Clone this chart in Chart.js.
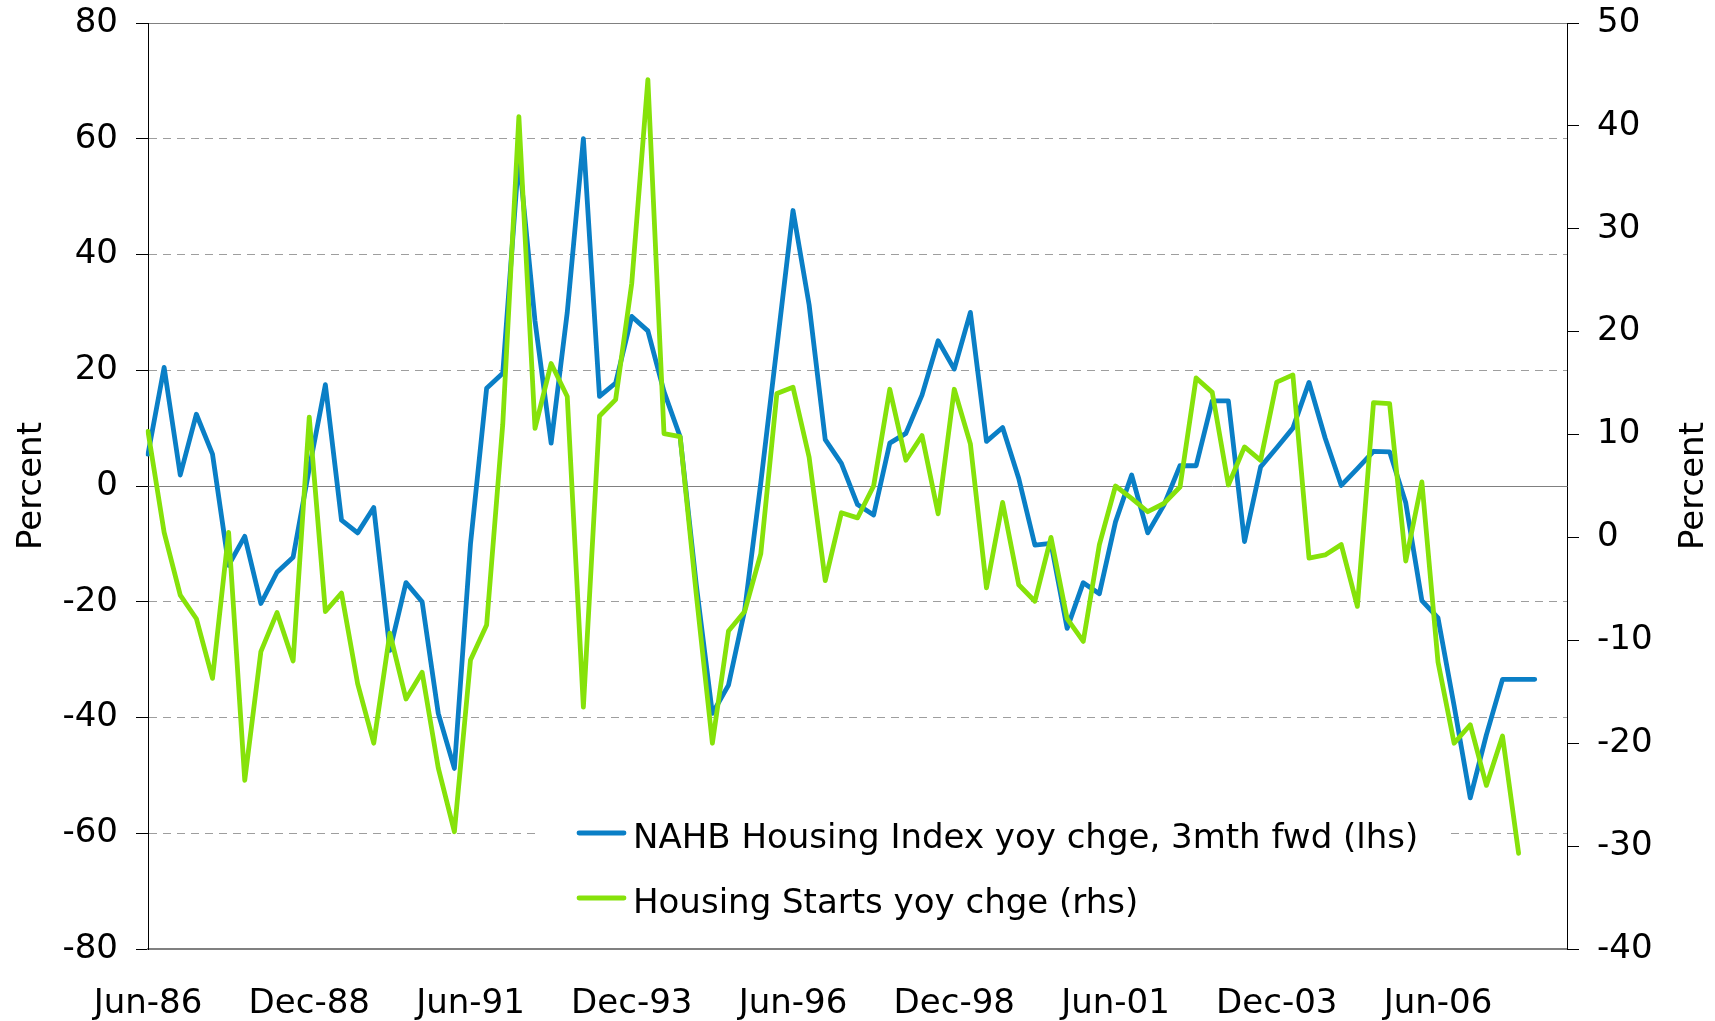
<!DOCTYPE html>
<html>
<head>
<meta charset="utf-8">
<title>NAHB Housing Index vs Housing Starts</title>
<script src="https://cdn.jsdelivr.net/npm/chart.js@4.4.1/dist/chart.umd.min.js"></script>
<style>
    html, body { margin: 0; padding: 0; background: #fff; }
    #wrap { width: 1715px; height: 1021px; }
</style>
</head>
<body>
<div id="wrap"><canvas id="housingChart" width="1715" height="1021"></canvas></div>
<script>
// quarterly categories, Jun-86 .. Jun-08
const quarters = [
    'Jun-86', 'Sep-86', 'Dec-86',
    'Mar-87', 'Jun-87', 'Sep-87', 'Dec-87',
    'Mar-88', 'Jun-88', 'Sep-88', 'Dec-88',
    'Mar-89', 'Jun-89', 'Sep-89', 'Dec-89',
    'Mar-90', 'Jun-90', 'Sep-90', 'Dec-90',
    'Mar-91', 'Jun-91', 'Sep-91', 'Dec-91',
    'Mar-92', 'Jun-92', 'Sep-92', 'Dec-92',
    'Mar-93', 'Jun-93', 'Sep-93', 'Dec-93',
    'Mar-94', 'Jun-94', 'Sep-94', 'Dec-94',
    'Mar-95', 'Jun-95', 'Sep-95', 'Dec-95',
    'Mar-96', 'Jun-96', 'Sep-96', 'Dec-96',
    'Mar-97', 'Jun-97', 'Sep-97', 'Dec-97',
    'Mar-98', 'Jun-98', 'Sep-98', 'Dec-98',
    'Mar-99', 'Jun-99', 'Sep-99', 'Dec-99',
    'Mar-00', 'Jun-00', 'Sep-00', 'Dec-00',
    'Mar-01', 'Jun-01', 'Sep-01', 'Dec-01',
    'Mar-02', 'Jun-02', 'Sep-02', 'Dec-02',
    'Mar-03', 'Jun-03', 'Sep-03', 'Dec-03',
    'Mar-04', 'Jun-04', 'Sep-04', 'Dec-04',
    'Mar-05', 'Jun-05', 'Sep-05', 'Dec-05',
    'Mar-06', 'Jun-06', 'Sep-06', 'Dec-06',
    'Mar-07', 'Jun-07', 'Sep-07', 'Dec-07',
    'Mar-08', 'Jun-08'
];
const labelStep = 10; // one label every 10 quarters

// NAHB Housing Index yoy chge, 3mth fwd (lhs, %)
const nahbYoy = [
    5.5, 20.5, 1.9, 12.4, 5.5, -13.7, -8.7, -20.3, -14.9, -12.3,
    3, 17.5, -5.9, -8.1, -3.7, -28.4, -16.7, -20, -39.3, -48.8,
    -10, 16.9, 19.5, 57, 28.5, 7.4, 30, 60, 15.5, 17.8,
    29.3, 26.8, 16.3, 8.5, -17, -39.3, -34.4, -21.5, 0.5, 24,
    47.6, 31.3, 8, 3.9, -3.2, -5, 7.4, 9.1, 15.7, 25.1,
    20.2, 30, 7.7, 10.1, 1.3, -10.2, -9.9, -24.6, -16.7, -18.6,
    -6.2, 1.9, -8.1, -3.3, 3.5, 3.5, 14.7, 14.7, -9.6, 3.3,
    6.6, 10, 17.9, 8.3, 0.1, 3, 6, 5.9, -2.9, -19.8,
    -22.8, -38, -53.9, -43, -33.4, -33.4, -33.4, null, null
];

// Housing Starts yoy chge (rhs, %)
const startsYoy = [
    10.3, 0.5, -5.6, -7.9, -13.7, 0.5, -23.6, -11.1, -7.3, -12,
    11.7, -7.2, -5.4, -14.2, -20, -9.3, -15.7, -13.1, -22.4, -28.6,
    -11.9, -8.5, 11, 40.9, 10.6, 16.9, 13.7, -16.5, 11.8, 13.4,
    24.7, 44.5, 10.1, 9.8, -5.5, -20, -9.1, -7.2, -1.6, 14,
    14.6, 7.8, -4.2, 2.4, 1.9, 5, 14.4, 7.5, 9.9, 2.3,
    14.4, 9.1, -4.9, 3.4, -4.6, -6.2, 0, -7.9, -10.1, -0.7,
    5, 3.8, 2.5, 3.3, 4.9, 15.5, 14.1, 5.1, 8.8, 7.5,
    15.1, 15.8, -2, -1.7, -0.7, -6.7, 13.1, 13, -2.3, 5.4,
    -12.1, -20, -18.2, -24.1, -19.3, -30.7, null, null, null
];

const seriesNames = ['NAHB Housing Index yoy chge, 3mth fwd (lhs)', 'Housing Starts yoy chge (rhs)'];
const axisTitle = 'Percent';

document.addEventListener('DOMContentLoaded', () => {
    const FONT = 'Verdana, "DejaVu Sans", sans-serif';
    const SIZE = 34;
    const LINE_W = 4.8;
    Chart.defaults.font.family = FONT;
    Chart.defaults.font.size = SIZE;
    Chart.defaults.color = '#000';

    const BLUE = '#0A7FC6';
    const GREEN = '#86E20A';
    const solidAt = v => v === 0 || Math.abs(v) === 80;

    // y axes: fixed width, no extra label padding above/below the plot
    const fixY = s => {
        s.width = 148;
        s.paddingTop = 0;
        s.paddingBottom = 0;
    };

    // legend inside the plot (excel style) and the two rotated axis titles
    const extras = {
        id: 'extras',
        beforeDatasetsDraw(chart) {
            const { ctx, chartArea: a } = chart;
            ctx.save();
            ctx.fillStyle = '#fff';
            ctx.fillRect(a.left + 390, a.top + 765, 912, a.bottom - a.top - 767);
            ctx.restore();
        },
        afterDraw(chart) {
            const { ctx, chartArea: a } = chart;
            ctx.save();
            ctx.font = `${SIZE}px ${FONT}`;
            ctx.fillStyle = '#000';
            ctx.textBaseline = 'alphabetic';
            ctx.textAlign = 'left';
            [BLUE, GREEN].forEach((col, i) => {
                const y = a.top + 810 + i * 65;
                ctx.strokeStyle = col;
                ctx.lineWidth = LINE_W;
                ctx.lineCap = 'round';
                ctx.beginPath();
                ctx.moveTo(a.left + 431, y);
                ctx.lineTo(a.left + 476, y);
                ctx.stroke();
                ctx.fillText(seriesNames[i], a.left + 485, y + 15);
            });
            const midY = (a.top + a.bottom) / 2;
            ctx.textAlign = 'center';
            [41, 1703].forEach(x => {
                ctx.save();
                ctx.translate(x, midY);
                ctx.rotate(-Math.PI / 2);
                ctx.fillText(axisTitle, 0, 0);
                ctx.restore();
            });
            ctx.restore();
        }
    };

    new Chart(document.getElementById('housingChart'), {
        type: 'line',
        data: {
            labels: quarters,
            datasets: [{
                label: seriesNames[0],
                data: nahbYoy,
                yAxisID: 'y',
                borderColor: BLUE,
                backgroundColor: BLUE,
                borderWidth: LINE_W,
                pointRadius: 0,
                tension: 0,
                fill: false,
                borderJoinStyle: 'round',
                borderCapStyle: 'round',
                order: 1
            }, {
                label: seriesNames[1],
                data: startsYoy,
                yAxisID: 'y2',
                borderColor: GREEN,
                backgroundColor: GREEN,
                borderWidth: LINE_W,
                pointRadius: 0,
                tension: 0,
                fill: false,
                borderJoinStyle: 'round',
                borderCapStyle: 'round',
                order: 0
            }]
        },
        options: {
            responsive: false,
            animation: false,
            devicePixelRatio: 1,
            layout: { padding: { top: 23, left: 0, right: 0, bottom: 0 } },
            plugins: {
                legend: { display: false },
                tooltip: { enabled: false }
            },
            scales: {
                x: {
                    offset: false,
                    grid: { display: false, drawTicks: false },
                    border: { display: true, color: '#808080', width: 2 },
                    ticks: {
                        autoSkip: false,
                        maxRotation: 0,
                        minRotation: 0,
                        padding: 35,
                        callback: (v, i) => (i % labelStep === 0 ? quarters[i] : null)
                    },
                    afterFit: s => { s.height = 72; }
                },
                y: {
                    position: 'left',
                    min: -80,
                    max: 80,
                    ticks: { stepSize: 20, padding: 18 },
                    grid: {
                        color: c => (c.tick && solidAt(c.tick.value) ? '#808080' : '#9e9e9e'),
                        lineWidth: 1,
                        tickLength: 12,
                        tickColor: '#000',
                        tickWidth: 1
                    },
                    border: {
                        color: '#000',
                        width: 1,
                        dash: c => (c.tick && !solidAt(c.tick.value) ? [8, 6] : [])
                    },
                    afterFit: fixY
                },
                y2: {
                    position: 'right',
                    min: -40,
                    max: 50,
                    ticks: { stepSize: 10, padding: 18 },
                    grid: {
                        drawOnChartArea: false,
                        tickLength: 12,
                        tickColor: '#000',
                        tickWidth: 1
                    },
                    border: { color: '#000', width: 1 },
                    afterFit: fixY
                }
            }
        },
        plugins: [extras]
    });
});
</script>
</body>
</html>
